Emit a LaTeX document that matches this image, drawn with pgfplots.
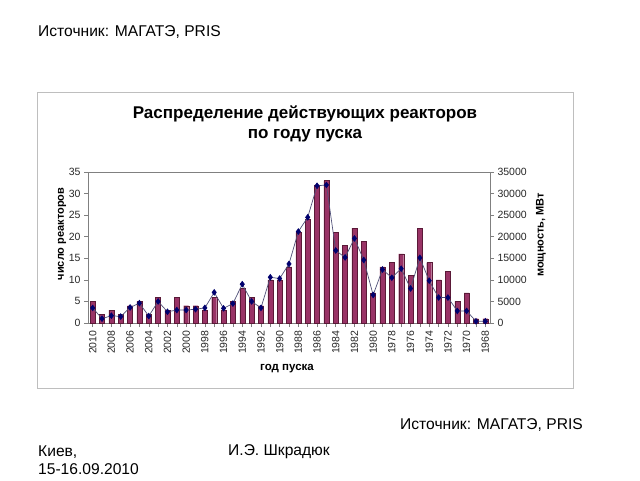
\documentclass[border=0pt]{standalone}
\usepackage{pgfplots}
\pgfplotsset{compat=1.18}
\usepackage{pgfplotstable}
\usepackage{fontspec}
\setmainfont{Liberation Sans}
\definecolor{barc}{RGB}{153,51,102}
\definecolor{bard}{RGB}{90,25,55}
\definecolor{navyc}{RGB}{0,0,110}
\definecolor{linec}{RGB}{80,80,120}
\definecolor{axc}{RGB}{128,128,128}
\definecolor{txt}{RGB}{40,40,40}

\pgfplotstableread{
idx yr n p
0 2010 5 3500
1 2009 2 1000
2 2008 3 1700
3 2007 2 1500
4 2006 4 3600
5 2005 5 4600
6 2004 2 1600
7 2003 6 5000
8 2002 3 2600
9 2001 6 3000
10 2000 4 3000
11 1999 4 3200
12 1998 3 3500
13 1997 6 7100
14 1996 3 3400
15 1995 5 4500
16 1994 8 9000
17 1993 6 5000
18 1992 4 3500
19 1991 10 10600
20 1990 10 10300
21 1989 13 13700
22 1988 21 21200
23 1987 24 24500
24 1986 32 31800
25 1985 33 32000
26 1984 21 16800
27 1983 18 15200
28 1982 22 19600
29 1981 19 14600
30 1980 7 6500
31 1979 13 12400
32 1978 14 10500
33 1977 16 12600
34 1976 11 8000
35 1975 22 15100
36 1974 14 9800
37 1973 10 5900
38 1972 12 5900
39 1971 5 2800
40 1970 7 2800
41 1969 1 400
42 1968 1 400
}\data

\begin{document}
\begin{tikzpicture}[x=1pt,y=1pt]
\fill[white] (0,0) rectangle (640,480);
% chart frame
\draw[color={rgb,255:red,190;green,190;blue,190}, line width=0.8pt] (37,92) rectangle (573,388);

\pgfplotsset{every axis/.append style={
  scale only axis, width=402pt, height=151pt,
  at={(88pt,157pt)}, anchor=south west,
  xmin=-0.5, xmax=42.5,
  tick align=outside, major tick length=4pt, minor tick length=4pt,
  tick style={color=axc, line width=0.5pt},
  tick label style={font=\fontsize{10.5}{12}\selectfont, text=txt},
  /pgf/number format/assume math mode=true,
}}

\begin{axis}[
  ymin=0, ymax=35,
  ytick={0,5,...,35},
  axis line style={color=axc, line width=0.6pt},
  xtick={0,2,...,42},
  xticklabels={2010,2008,2006,2004,2002,2000,1998,1996,1994,1992,1990,1988,1986,1984,1982,1980,1978,1976,1974,1972,1970,1968},
  minor xtick={1,3,...,41},
  xtick pos=bottom, ytick pos=left,
  xticklabel style={rotate=90, anchor=east},
  ybar, bar width=5pt,
]
\addplot[fill=barc, draw=bard, line width=0.3pt] table[x=idx, y=n] {\data};
\end{axis}

\begin{axis}[
  ymin=0, ymax=35000,
  ytick={0,5000,...,35000},
  axis x line=none,
  axis y line*=right,
  axis line style={color=axc, line width=0.6pt},
  yticklabel style={/pgf/number format/.cd, set thousands separator={}, fixed},
  scaled y ticks=false,
]
\addplot[color=linec, line width=0.7pt, mark=diamond*, mark size=2.8pt,
  mark options={fill=navyc, draw=navyc}] table[x=idx, y=p] {\data};
\end{axis}

% texts
\node[anchor=west, inner sep=0pt, font=\fontsize{15.6}{18}\selectfont] at (38,448) {Источник: МАГАТЭ, PRIS};
\node[inner sep=0pt, font=\bfseries\fontsize{17}{19}\selectfont] at (305,366) {Распределение действующих реакторов};
\node[inner sep=0pt, font=\bfseries\fontsize{17}{19}\selectfont] at (305,344) {по году пуска};
\node[rotate=90, inner sep=0pt, font=\bfseries\fontsize{11}{12}\selectfont] at (62,246) {число реакторов};
\node[rotate=90, inner sep=0pt, font=\bfseries\fontsize{11}{12}\selectfont] at (541,245) {мощность, МВт};
\node[inner sep=0pt, font=\bfseries\fontsize{11.5}{13}\selectfont] at (287,111) {год пуска};
\node[anchor=west, inner sep=0pt, font=\fontsize{15.6}{18}\selectfont] at (400,55) {Источник: МАГАТЭ, PRIS};
\node[anchor=west, inner sep=0pt, font=\fontsize{15.6}{18}\selectfont] at (38,28) {Киев,};
\node[anchor=west, inner sep=0pt, font=\fontsize{15.6}{18}\selectfont] at (38,11) {15-16.09.2010};
\node[anchor=west, inner sep=0pt, font=\fontsize{15.6}{18}\selectfont] at (228,28) {И.Э. Шкрадюк};
\end{tikzpicture}
\end{document}
